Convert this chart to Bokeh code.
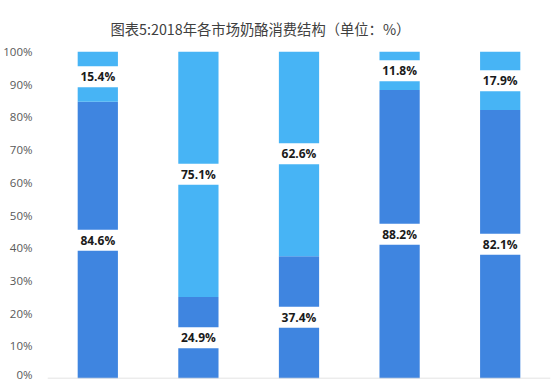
from bokeh.plotting import figure
from bokeh.models import ColumnDataSource, FactorRange, Span, Title, FixedTicker, CustomJSTickFormatter
from bokeh.embed import file_html
from bokeh.resources import INLINE
from bokeh.core.properties import value

title_text = "图表5:2018年各市场奶酪消费结构（单位：%）"
categories = ["1", "2", "3", "4", "5"]
dark_share = [84.6, 24.9, 37.4, 88.2, 82.1]
light_share = [15.4, 75.1, 62.6, 11.8, 17.9]
y_ticks = [0, 10, 20, 30, 40, 50, 60, 70, 80, 90, 100]

DARK = "#3F85E0"
LIGHT = "#47B4F5"

src = ColumnDataSource(dict(cat=categories, dark=dark_share, light=light_share))

p = figure(width=552, height=381, x_range=FactorRange(*categories), y_range=(0, 100),
           output_backend="svg", toolbar_location=None, x_axis_location=None,
           min_border_left=47, min_border_right=2, min_border_bottom=3, min_border_top=51)
p.title = None
t = Title(text=title_text, align="left", offset=63, standoff=26,
          text_font="Noto Sans CJK SC", text_font_size="14.3px",
          text_font_style="normal", text_color="#404040")
p.add_layout(t, "above")

p.vbar_stack(["dark", "light"], x="cat", width=0.4, source=src,
             color=[DARK, LIGHT], line_color=None)

# label positions (segment midpoints)
lab_x, lab_y, lab_t = [], [], []
for c, d, l in zip(categories, dark_share, light_share):
    lab_x += [c, c]
    lab_y += [d / 2, d + l / 2]
    lab_t += [f"{d:.1f}%", f"{l:.1f}%"]
lsrc = ColumnDataSource(dict(x=lab_x, y=lab_y, t=lab_t))
p.rect(x="x", y="y", width=0.42, height=21, height_units="screen", source=lsrc,
       fill_color="white", line_color=None)
p.text(x="x", y="y", text="t", source=lsrc, text_align="center", text_baseline="middle",
       text_font=value("Open Sans"), text_font_style="bold", text_font_size="12px",
       text_color="#1a1a1a")

p.add_layout(Span(location=0, dimension="width", line_color="#d9d9d9", line_width=1.5))

p.yaxis.ticker = FixedTicker(ticks=y_ticks)
p.yaxis.formatter = CustomJSTickFormatter(code="return tick + '%';")
p.yaxis.axis_line_color = None
p.yaxis.major_tick_line_color = None
p.yaxis.minor_tick_line_color = None
p.yaxis.major_label_standoff = 9
p.yaxis.major_label_text_font = "Open Sans"
p.yaxis.major_label_text_font_size = "11.5px"
p.yaxis.major_label_text_color = "#595959"
p.grid.visible = False
p.outline_line_color = None

open("out.html", "w").write(file_html(p, INLINE))
